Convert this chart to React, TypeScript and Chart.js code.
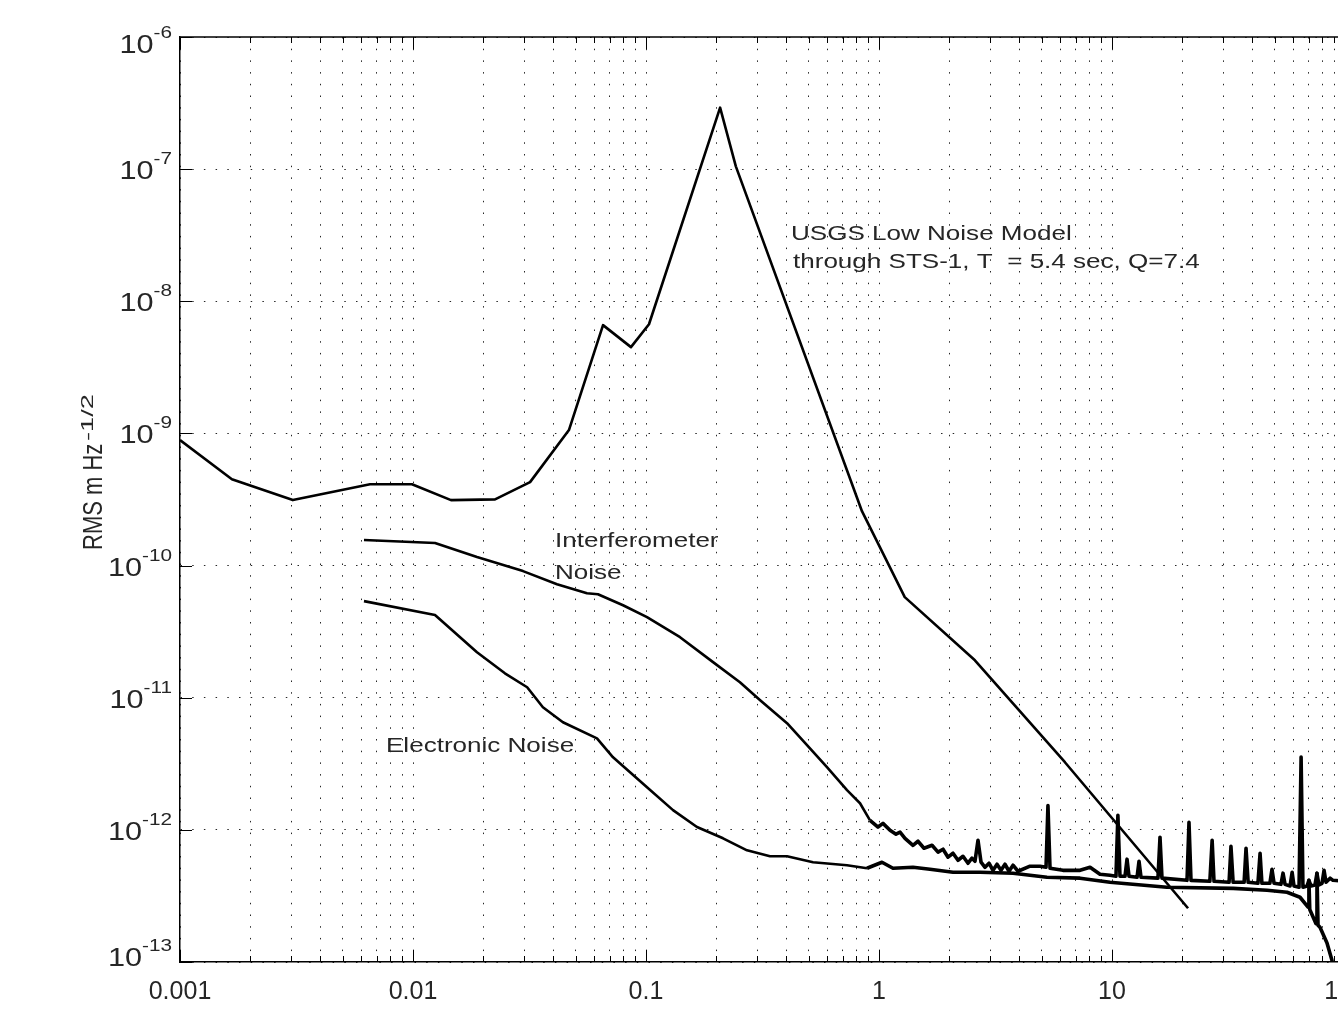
import React, { useEffect, useRef } from 'react';
import { Chart, registerables } from 'chart.js';

Chart.register(...registerables);

// ---- axis ticks ----
const xMajorTicks = [0.001, 0.01, 0.1, 1, 10, 100];
const xTickLabels = ['0.001', '0.01', '0.1', '1', '10', '100'];
const yMajorTicks = [1e-13, 1e-12, 1e-11, 1e-10, 1e-9, 1e-8, 1e-7, 1e-6];
const yTickExponents = ['-13', '-12', '-11', '-10', '-9', '-8', '-7', '-6'];

// ---- USGS Low Noise Model through STS-1 ----
const usgsFreq = [0.001, 0.00167, 0.00305, 0.00654, 0.0099, 0.01456, 0.0225, 0.0318, 0.0467, 0.0654, 0.0862, 0.103, 0.208, 0.243, 0.845, 1.29, 2.58, 6.28, 21.2];
const usgsVal = [8.9e-10, 4.5e-10, 3.13e-10, 4.13e-10, 4.13e-10, 3.13e-10, 3.17e-10, 4.28e-10, 1.06e-9, 6.6e-9, 4.5e-9, 6.7e-9, 2.92e-7, 1.05e-7, 2.58e-10, 5.77e-11, 1.92e-11, 3.25e-12, 2.55e-13];

// ---- Interferometer noise ----
const interfFreq = [
  0.00616, 0.01243, 0.01882, 0.02966, 0.0415, 0.0558, 0.0622, 0.0797, 0.101, 0.14, 0.194, 0.253, 0.309, 0.403, 0.491, 0.598, 0.729, 0.829, 0.915, 0.99,
  1.04, 1.115, 1.183, 1.231, 1.293, 1.399, 1.47, 1.56, 1.689, 1.792, 1.883, 1.978, 2.078, 2.183, 2.294, 2.41, 2.506, 2.582, 2.66, 2.741,
  2.851, 2.966, 3.086, 3.21, 3.339, 3.473, 3.614, 3.76, 3.951, 4.448, 4.91, 5.21, 5.31, 5.42, 6.16, 7.29, 8.05, 8.88, 9.8, 10.4,
  10.6, 10.82, 11.37, 11.6, 11.83, 12.81, 13.06, 13.32, 15.75, 16.07, 16.39, 20.99, 21.4, 21.83, 26.3, 26.9, 27.4, 31.8, 32.4, 33.1,
  36.9, 37.6, 38.4, 42.3, 43.2, 44.0, 47.6, 48.6, 49.6, 53.1, 54.2, 55.3, 58.1, 59.3, 60.4, 63.5, 64.8, 66.0, 68.7, 70.0,
  71.5, 74.3, 75.8, 77.3, 79.7, 81.3, 82.9, 86.3, 88.8, 100,
];
const interfVal = [
  1.56e-10, 1.48e-10, 1.16e-10, 9.08e-11, 7.23e-11, 6.18e-11, 6.07e-11, 5.01e-11, 4.07e-11, 2.87e-11, 1.86e-11, 1.31e-11, 9.57e-12, 6.41e-12, 4.37e-12, 2.98e-12, 2.0e-12, 1.59e-12, 1.18e-12, 1.05e-12,
  1.12e-12, 9.93e-13, 9.27e-13, 9.6e-13, 8.63e-13, 7.64e-13, 8.2e-13, 7.26e-13, 7.64e-13, 6.78e-13, 7.14e-13, 6.21e-13, 6.65e-13, 5.89e-13, 6.31e-13, 5.59e-13, 6.1e-13, 5.79e-13, 8.34e-13, 5.69e-13,
  5.21e-13, 5.59e-13, 4.94e-13, 5.49e-13, 4.94e-13, 5.49e-13, 4.86e-13, 5.4e-13, 4.86e-13, 5.31e-13, 5.31e-13, 5.21e-13, 1.53e-12, 5.12e-13, 4.94e-13, 4.94e-13, 5.21e-13, 4.61e-13, 4.53e-13, 4.46e-13,
  1.29e-12, 4.46e-13, 4.46e-13, 6.0e-13, 4.46e-13, 4.38e-13, 5.78e-13, 4.38e-13, 4.31e-13, 8.8e-13, 4.31e-13, 4.15e-13, 1.14e-12, 4.15e-13, 4.08e-13, 8.34e-13, 4.08e-13, 4.01e-13, 7.5e-13, 4.01e-13,
  4.01e-13, 7.26e-13, 4.01e-13, 3.94e-13, 6.65e-13, 3.94e-13, 3.94e-13, 5.03e-13, 3.94e-13, 3.87e-13, 4.7e-13, 3.87e-13, 3.76e-13, 4.78e-13, 3.76e-13, 3.68e-13, 3.55e-12, 3.68e-13, 3.76e-13, 4.15e-13,
  3.76e-13, 3.83e-13, 4.7e-13, 3.83e-13, 3.94e-13, 4.94e-13, 4.01e-13, 4.31e-13, 4.15e-13, 4.08e-13,
];

// ---- Electronic noise ----
const elecFreq = [
  0.00616, 0.01243, 0.01882, 0.0248, 0.0309, 0.0361, 0.044, 0.0616, 0.0722, 0.101, 0.1306, 0.1655, 0.2141, 0.2713, 0.3405, 0.403, 0.521, 0.729, 0.888, 1.03,
  1.148, 1.399, 1.655, 2.078, 2.713, 3.76, 5.26, 7.29, 9.8, 17.2, 33.1, 46.3, 56.4, 64.1, 69.4, 70.0, 70.6, 75.1, 75.8, 76.6,
  78.1, 83.7, 87.9, 89.7,
];
const elecVal = [
  5.38e-11, 4.22e-11, 2.21e-11, 1.53e-11, 1.2e-11, 8.47e-12, 6.52e-12, 4.93e-12, 3.54e-12, 2.1e-12, 1.41e-12, 1.05e-12, 8.63e-13, 7.0e-13, 6.31e-13, 6.31e-13, 5.69e-13, 5.4e-13, 5.12e-13, 5.69e-13,
  5.12e-13, 5.21e-13, 5.03e-13, 4.78e-13, 4.78e-13, 4.69e-13, 4.38e-13, 4.31e-13, 4.01e-13, 3.68e-13, 3.61e-13, 3.49e-13, 3.37e-13, 3.09e-13, 2.6e-13, 4.15e-13, 2.5e-13, 1.95e-13, 4.7e-13, 1.9e-13,
  1.83e-13, 1.39e-13, 1.03e-13, 8e-14,
];

const FONT = '"Liberation Sans", Arial, Helvetica, sans-serif';
const TEXT_COLOR = '#262626';
const SX = 1.22;

function drawStretched(ctx: CanvasRenderingContext2D, text: string, x: number, y: number, size: number, sx: number) {
  ctx.save();
  ctx.font = `${size}px ${FONT}`;
  ctx.translate(x, y);
  ctx.scale(sx, 1);
  ctx.fillText(text, 0, 0);
  ctx.restore();
}

const overlayPlugin = {
  id: 'overlay',
  afterDraw(chart: any) {
    const { ctx, chartArea, scales } = chart;
    const xs = scales.x;
    const ys = scales.y;
    const { left, right, top, bottom } = chartArea;
    ctx.save();
    ctx.strokeStyle = '#000';
    ctx.lineWidth = 1.5;
    ctx.setLineDash([]);
    ctx.beginPath();
    ctx.moveTo(left, top);
    ctx.lineTo(right, top);
    ctx.stroke();

    // inward tick marks
    ctx.lineWidth = 1;
    xs.ticks.forEach((t: any) => {
      const px = Math.round(xs.getPixelForValue(t.value)) + 0.5;
      const len = t.major ? 12 : 6;
      ctx.beginPath();
      ctx.moveTo(px, bottom);
      ctx.lineTo(px, bottom - len);
      ctx.moveTo(px, top);
      ctx.lineTo(px, top + len);
      ctx.stroke();
    });
    ys.ticks.forEach((t: any) => {
      const py = Math.round(ys.getPixelForValue(t.value)) + 0.5;
      ctx.beginPath();
      ctx.moveTo(left, py);
      ctx.lineTo(left + 12, py);
      ctx.stroke();
    });

    // y tick labels 10^n
    ctx.fillStyle = TEXT_COLOR;
    ctx.textAlign = 'left';
    ctx.textBaseline = 'alphabetic';
    const last = yMajorTicks.length - 1;
    yMajorTicks.forEach((v, i) => {
      const py = ys.getPixelForValue(v);
      let base = py + 10;
      if (i === last) base = py + 16;
      if (i === 0) base = py + 4;
      ctx.font = `26px ${FONT}`;
      const w10 = ctx.measureText('10').width * 1.18;
      ctx.font = `17px ${FONT}`;
      const wExp = ctx.measureText(yTickExponents[i]).width * SX;
      const x10 = 172 - wExp - w10;
      drawStretched(ctx, '10', x10, base, 26, 1.18);
      drawStretched(ctx, yTickExponents[i], x10 + w10, base - 15, 17, SX);
    });

    // y axis title (rotated)
    ctx.save();
    ctx.rotate(-Math.PI / 2);
    ctx.save();
    ctx.translate(-550, 102);
    ctx.scale(1, 1.25);
    ctx.font = `22px ${FONT}`;
    ctx.fillText('RMS m Hz', 0, 0);
    ctx.restore();
    ctx.save();
    ctx.translate(-441, 93);
    ctx.scale(1.7, 1.0);
    ctx.font = `16px ${FONT}`;
    ctx.fillText('-1/2', 0, 0);
    ctx.restore();
    ctx.restore();

    // annotations
    drawStretched(ctx, 'USGS Low Noise Model', 791, 240, 21, 1.24);
    drawStretched(ctx, 'through STS-1, T  = 5.4 sec, Q=7.4', 793, 268, 21, 1.24);
    drawStretched(ctx, 'Interferometer', 555, 546.5, 21, 1.24);
    drawStretched(ctx, 'Noise', 555, 579, 21, 1.24);
    drawStretched(ctx, 'Electronic Noise', 386, 751.5, 21, 1.24);
    ctx.restore();
  },
};

function buildXTicks() {
  const ticks: { value: number; major: boolean }[] = [];
  for (let d = 0; d < xMajorTicks.length - 1; d++) {
    for (let k = 1; k <= 9; k++) {
      ticks.push({ value: k === 1 ? xMajorTicks[d] : xMajorTicks[d] * k, major: k === 1 });
    }
  }
  ticks.push({ value: xMajorTicks[xMajorTicks.length - 1], major: true });
  return ticks;
}

const toPoints = (fs: number[], vs: number[]) => fs.map((f, i) => ({ x: f, y: vs[i] }));

export default function App() {
  const ref = useRef<HTMLCanvasElement>(null);
  useEffect(() => {
    const canvas = ref.current;
    if (!canvas) return;
    const lineStyle = { borderColor: '#000', borderWidth: 2.6, pointRadius: 0, tension: 0, fill: false, borderJoinStyle: 'round' as const };
    const noisySegment = {
      borderWidth: (c: any) => (c.p0.parsed.x >= 0.85 ? 3.6 : 2.6),
    };
    const chart = new Chart(canvas, {
      type: 'line',
      data: {
        datasets: [
          { label: 'USGS Low Noise Model', data: toPoints(usgsFreq, usgsVal), ...lineStyle },
          { label: 'Interferometer Noise', data: toPoints(interfFreq, interfVal), ...lineStyle, segment: noisySegment },
          { label: 'Electronic Noise', data: toPoints(elecFreq, elecVal), ...lineStyle, segment: noisySegment },
        ],
      },
      options: {
        animation: false,
        responsive: false,
        maintainAspectRatio: false,
        devicePixelRatio: 1,
        events: [],
        layout: { padding: { top: 37, right: 55, left: 0, bottom: 0 } },
        plugins: { legend: { display: false }, tooltip: { enabled: false }, title: { display: false } },
        scales: {
          x: {
            type: 'logarithmic',
            position: 'bottom',
            min: 0.001,
            max: 100,
            afterBuildTicks: (s: any) => {
              s.ticks = buildXTicks();
            },
            afterFit: (s: any) => {
              s.height = 48;
            },
            grid: { color: 'rgba(0,0,0,0.85)', lineWidth: 1, drawTicks: false },
            border: { display: true, color: '#000', width: 1.5, dash: [1.5, 10.2] },
            ticks: {
              autoSkip: false,
              maxRotation: 0,
              minRotation: 0,
              padding: 15,
              color: TEXT_COLOR,
              font: { family: FONT, size: 25 },
              callback: (v: any) => {
                const i = xMajorTicks.indexOf(Number(v));
                return i >= 0 ? xTickLabels[i] : '';
              },
            },
          },
          y: {
            type: 'logarithmic',
            position: 'left',
            min: 1e-13,
            max: 1e-6,
            afterBuildTicks: (s: any) => {
              s.ticks = yMajorTicks.map((v) => ({ value: v, major: true }));
            },
            afterFit: (s: any) => {
              s.width = 180;
            },
            grid: { color: 'rgba(0,0,0,0.85)', lineWidth: 1, drawTicks: false },
            border: { display: true, color: '#000', width: 1.5, dash: [1.5, 10.2] },
            ticks: { display: false },
          },
        },
      } as any,
      plugins: [overlayPlugin],
    });
    return () => chart.destroy();
  }, []);

  return (
    <div style={{ position: 'fixed', left: 0, top: 0, width: 1338, height: 1010, overflow: 'hidden', background: '#fff' }}>
      <canvas ref={ref} width={1400} height={1010} style={{ width: 1400, height: 1010, display: 'block' }} />
    </div>
  );
}
